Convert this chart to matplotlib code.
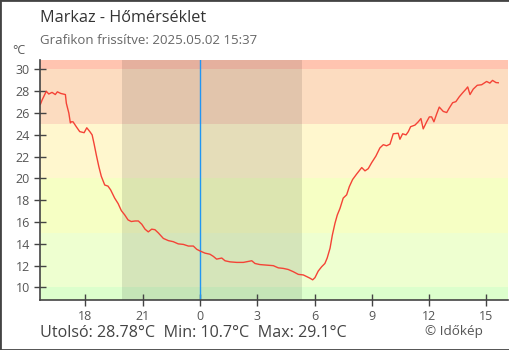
import numpy as np
import matplotlib
matplotlib.use('Agg')
import matplotlib.pyplot as plt
from matplotlib import patches

plt.rcParams['font.family'] = ['Open Sans', 'DejaVu Sans']

# hours relative to midnight (2025.05.02), temperature in degC
hours = [-8.36, -8.27, -8.13, -8.05, -7.92, -7.75, -7.58, -7.47, -7.29, -7.05,
         -7.00, -6.87, -6.79, -6.74, -6.65, -6.48, -6.30, -6.07, -5.93, -5.77,
         -5.65, -5.55, -5.43, -5.30, -5.17, -4.99, -4.82, -4.68, -4.47, -4.29,
         -4.12, -3.94, -3.77, -3.60, -3.40, -3.23, -3.05, -2.88, -2.71, -2.53,
         -2.36, -2.18, -1.92, -1.66, -1.40, -1.14, -0.87, -0.61, -0.35, -0.17,
         0.00, 0.26, 0.52, 0.70, 0.87, 1.14, 1.31, 1.57, 1.92, 2.27,
         2.71, 2.88, 3.14, 3.49, 3.84, 4.10, 4.36, 4.62, 4.88, 5.15,
         5.41, 5.59, 5.76, 5.90, 6.02, 6.19, 6.37, 6.54, 6.66, 6.81,
         6.93, 7.07, 7.19, 7.33, 7.50, 7.68, 7.82, 7.99, 8.20, 8.47,
         8.64, 8.81, 8.99, 9.21, 9.42, 9.60, 9.77, 9.95, 10.12, 10.38,
         10.47, 10.61, 10.79, 10.91, 11.03, 11.26, 11.43, 11.57, 11.69, 11.87,
         12.01, 12.13, 12.25, 12.39, 12.53, 12.74, 12.92, 13.05, 13.23, 13.40,
         13.58, 13.75, 13.93, 14.02, 14.14, 14.31, 14.52, 14.75, 15.01, 15.18,
         15.32, 15.50, 15.62]
temps = [26.8, 27.2, 27.7, 28.0, 27.75, 27.9, 27.7, 27.95, 27.8, 27.7,
         26.9, 26.0, 25.1, 25.2, 25.2, 24.75, 24.3, 24.2, 24.65, 24.3,
         24.0, 23.2, 22.15, 21.1, 20.2, 19.4, 19.3, 18.95, 18.2, 17.7,
         17.05, 16.65, 16.2, 16.05, 16.1, 16.1, 15.8, 15.35, 15.1, 15.35,
         15.3, 15.0, 14.5, 14.3, 14.2, 14.0, 13.95, 13.8, 13.8, 13.5,
         13.35, 13.15, 13.05, 12.85, 12.6, 12.7, 12.45, 12.35, 12.3, 12.3,
         12.45, 12.2, 12.1, 12.05, 12.0, 11.8, 11.75, 11.65, 11.45, 11.2,
         11.15, 11.0, 10.85, 10.7, 10.9, 11.5, 11.9, 12.2, 12.7, 13.6,
         14.8, 15.9, 16.65, 17.25, 18.2, 18.5, 19.25, 19.9, 20.4, 21.0,
         20.7, 20.9, 21.45, 22.05, 22.8, 23.1, 23.0, 23.15, 24.1, 24.15,
         23.6, 24.1, 24.0, 24.3, 24.75, 24.9, 25.2, 25.5, 24.55, 25.2,
         25.65, 25.65, 25.2, 25.9, 26.55, 26.15, 26.05, 26.45, 26.95, 27.05,
         27.5, 27.85, 28.2, 28.4, 27.7, 28.2, 28.55, 28.6, 28.9, 28.75,
         29.0, 28.8, 28.78]

tick_hours = [-6, -3, 0, 3, 6, 9, 12, 15]
tick_labels = ['18', '21', '0', '3', '6', '9', '12', '15']
y_ticks = list(range(10, 31, 2))

# temperature bands (low, high, colour)
band_edges = [0, 10, 15, 20, 25, 30, 40]
band_colors = ['#dcffcc', '#eeffd0', '#f6ffc4', '#fff7ce', '#fcdcc0', '#ffc4b0']

sunset = -4.08
sunrise = 5.34

title = 'Markaz - Hőmérséklet'
subtitle = 'Grafikon frissítve: 2025.05.02 15:37'
summary = 'Utolsó: 28.78°C  Min: 10.7°C  Max: 29.1°C'

fig = plt.figure(figsize=(5.1, 3.5), dpi=100)
ax = fig.add_axes([40 / 510, 1 - 300 / 350, 468 / 510, 240 / 350])

for i, col in enumerate(band_colors):
    ax.axhspan(band_edges[i], band_edges[i + 1], color=col, lw=0, zorder=0)

ax.axvspan(sunset, sunrise, color='black', alpha=0.1, lw=0, zorder=1)
ax.axvline(0, color='#2196f3', lw=1.0, zorder=2)
ax.plot(hours, temps, color='#f44336', lw=1.0, zorder=3)

ax.set_xlim(-8.38, 16.13)
ax.set_ylim(8.85, 30.87)
ax.set_xticks(tick_hours)
ax.set_xticklabels(tick_labels)
ax.set_yticks(y_ticks)

for s in ['top', 'right']:
    ax.spines[s].set_visible(False)
for s in ['left', 'bottom']:
    ax.spines[s].set_color('#444444')
    ax.spines[s].set_linewidth(1.2)
    ax.spines[s].set_zorder(5)

ax.tick_params(axis='both', direction='inout', length=8.5, width=1,
               color='#444444', labelcolor='#555555', labelsize=9)
ax.tick_params(axis='x', pad=3)
ax.tick_params(axis='y', pad=3)

fig.text(40 / 510, 1 - 18 / 350, title, fontsize=11.7, color='#333333', va='center')
fig.text(40 / 510, 1 - 41 / 350, subtitle, fontsize=9.5, color='#666666', va='center')
fig.text(12 / 510, 1 - 51 / 350, '°C', fontsize=9, color='#555555', va='center')
fig.text(40 / 510, 1 - 333 / 350, summary, fontsize=11.6, color='#444444', va='center')
fig.text(425 / 510, 1 - 332 / 350, '© Időkép', fontsize=9.7, color='#555555', va='center')

fig.add_artist(patches.Rectangle((0, 0), 1, 1, transform=fig.transFigure,
                                 fill=False, ec='#444444', lw=2))

fig.savefig('out.png', dpi=100)
